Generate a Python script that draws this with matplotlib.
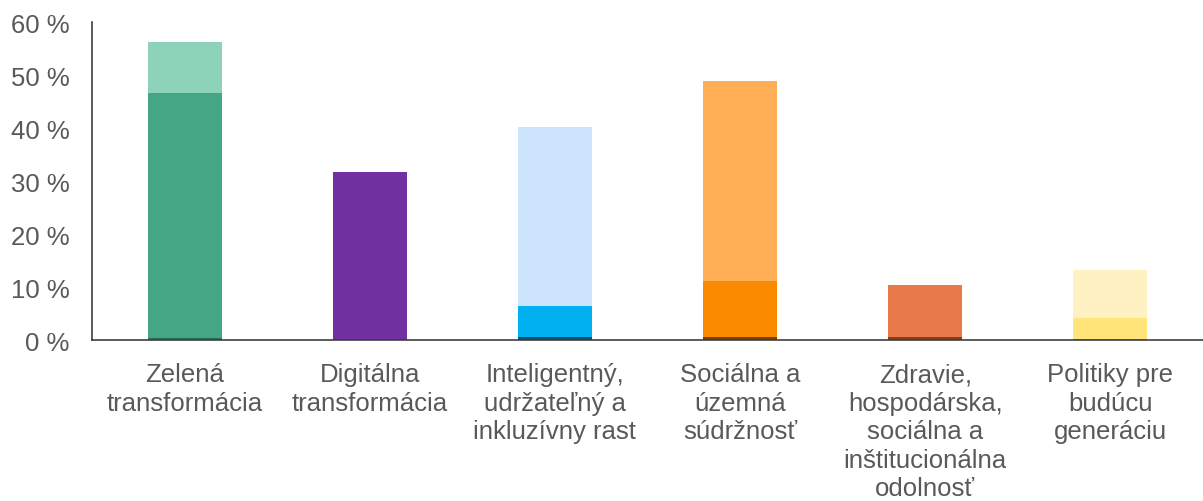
import matplotlib.pyplot as plt
import numpy as np

plt.rcParams['font.family'] = ['Liberation Sans', 'DejaVu Sans']

categories = ['Zelená\ntransformácia', 'Digitálna\ntransformácia',
              'Inteligentný,\nudržateľný a\ninkluzívny rast',
              'Sociálna a\núzemná\nsúdržnosť',
              'Zdravie,\nhospodárska,\nsociálna a\ninštitucionálna\nodolnosť',
              'Politiky pre\nbudúcu\ngeneráciu']
bottom_vals = [0.3, 0.2, 0.6, 0.6, 0.6, 0.2]
mid_vals = [46.3, 31.5, 5.8, 10.5, 9.8, 4.0]
top_vals = [9.6, 0.0, 33.8, 37.8, 0.0, 9.0]

dark_colors = ['#2a6e55', '#4a1f6b', '#0b4f6a', '#7a4200', '#8a3e1c', '#9a8a40']
mid_colors = ['#43a684', '#7030a0', '#00b0f0', '#f98a00', '#e8794a', '#ffe57a']
light_colors = ['#8cd3b9', '#7030a0', '#cce5fc', '#ffae55', '#e8794a', '#fff2c2']

fig = plt.figure(figsize=(12.03, 5.02), dpi=100)
ax = fig.add_axes([0.0765, 0.3207, 0.9235, 0.6333])

x = np.arange(len(categories))
b = np.array(bottom_vals)
m = np.array(mid_vals)
t = np.array(top_vals)
ax.bar(x, b, width=0.4, color=dark_colors)
ax.bar(x, m, width=0.4, bottom=b, color=mid_colors)
ax.bar(x, t, width=0.4, bottom=b + m, color=light_colors)

ax.set_xlim(-0.5, len(categories) - 0.5)
ax.set_ylim(0, 60)
ax.set_yticks(range(0, 61, 10))
ax.set_yticklabels([f'{v} %' for v in range(0, 61, 10)])
ax.set_xticks(x)
ax.set_xticklabels(categories, linespacing=1.24)
ax.tick_params(axis='both', length=0, labelsize=18.5, colors='#595959')
ax.tick_params(axis='y', pad=16)
ax.tick_params(axis='x', pad=16)
for s in ['top', 'right']:
    ax.spines[s].set_visible(False)
for s in ['left', 'bottom']:
    ax.spines[s].set_color('#404040')
    ax.spines[s].set_linewidth(1.2)

fig.savefig('out.png', dpi=100)
